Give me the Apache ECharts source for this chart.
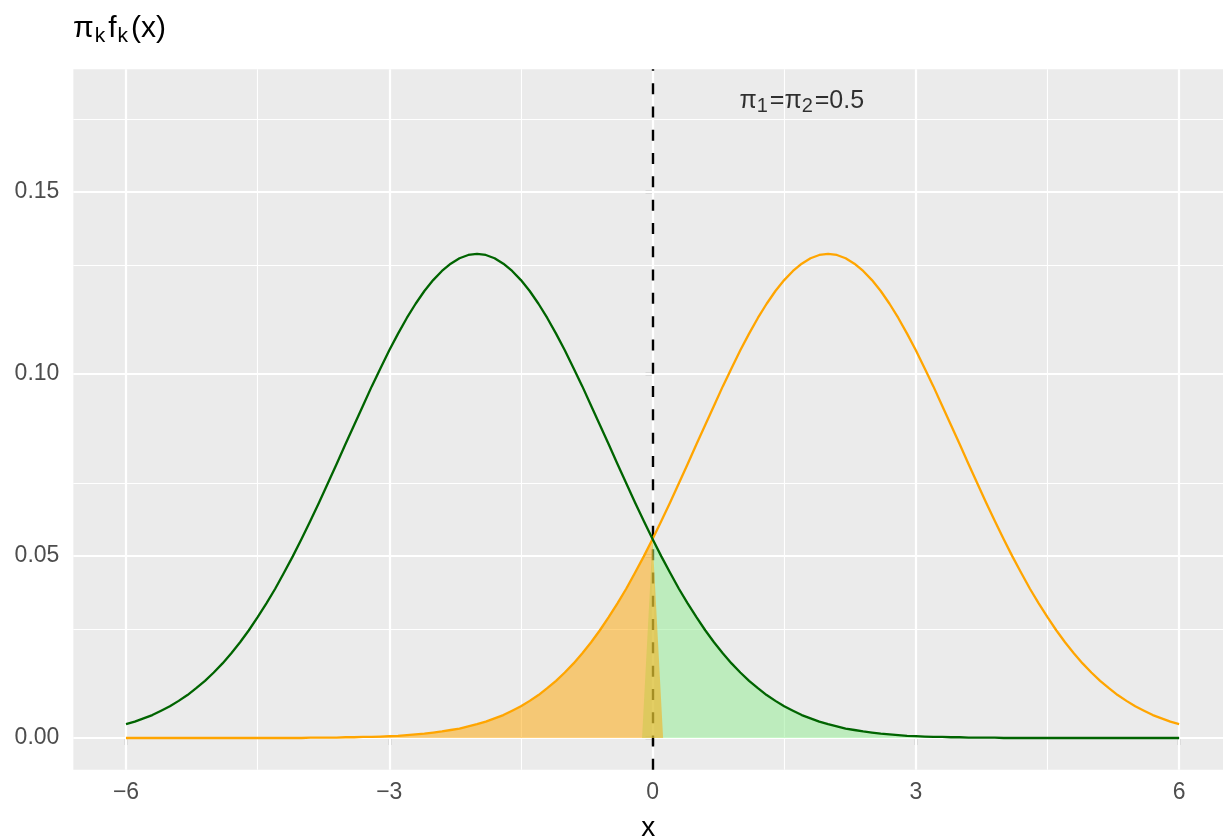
<!DOCTYPE html>
<html>
<head>
<meta charset="utf-8">
<script src="https://cdn.jsdelivr.net/npm/echarts@6/dist/echarts.min.js"></script>
<style>
html,body{margin:0;padding:0;background:#ffffff;overflow:hidden;}
#c{width:1223px;height:837px;}
</style>
</head>
<body>
<div id="c"></div>
<script>
// ---- data ----
const xValues = [-6,-5.9,-5.8,-5.7,-5.6,-5.5,-5.4,-5.3,-5.2,-5.1,-5,-4.9,-4.8,-4.7,-4.6,-4.5,-4.4,-4.3,-4.2,-4.1,-4,-3.9,-3.8,-3.7,-3.6,-3.5,-3.4,-3.3,-3.2,-3.1,-3,-2.9,-2.8,-2.7,-2.6,-2.5,-2.4,-2.3,-2.2,-2.1,-2,-1.9,-1.8,-1.7,-1.6,-1.5,-1.4,-1.3,-1.2,-1.1,-1,-0.9,-0.8,-0.7,-0.6,-0.5,-0.4,-0.3,-0.2,-0.1,0,0.1,0.2,0.3,0.4,0.5,0.6,0.7,0.8,0.9,1,1.1,1.2,1.3,1.4,1.5,1.6,1.7,1.8,1.9,2,2.1,2.2,2.3,2.4,2.5,2.6,2.7,2.8,2.9,3,3.1,3.2,3.3,3.4,3.5,3.6,3.7,3.8,3.9,4,4.1,4.2,4.3,4.4,4.5,4.6,4.7,4.8,4.9,5,5.1,5.2,5.3,5.4,5.5,5.6,5.7,5.8,5.9,6];
const greenValues = [0.0038,0.0045,0.0054,0.0063,0.0075,0.0087,0.0102,0.0118,0.0137,0.0157,0.0180,0.0205,0.0233,0.0263,0.0296,0.0332,0.0370,0.0410,0.0454,0.0499,0.0547,0.0596,0.0647,0.0700,0.0753,0.0807,0.0860,0.0913,0.0966,0.1016,0.1065,0.1111,0.1154,0.1193,0.1228,0.1258,0.1283,0.1303,0.1318,0.1327,0.1330,0.1327,0.1318,0.1303,0.1283,0.1258,0.1228,0.1193,0.1154,0.1111,0.1065,0.1016,0.0966,0.0913,0.0860,0.0807,0.0753,0.0700,0.0647,0.0596,0.0547,0.0499,0.0454,0.0410,0.0370,0.0332,0.0296,0.0263,0.0233,0.0205,0.0180,0.0157,0.0137,0.0118,0.0102,0.0087,0.0075,0.0063,0.0054,0.0045,0.0038,0.0032,0.0026,0.0022,0.0018,0.0015,0.0012,0.0010,0.0008,0.0006,0.0005,0.0004,0.0003,0.0003,0.0002,0.0002,0.0001,0.0001,0.0001,0.0001,0.0000,0,0,0,0,0,0,0,0,0,0,0,0,0,0,0,0,0,0,0,0];
const orangeValues = [0,0,0,0,0,0,0,0,0,0,0,0,0,0,0,0,0,0,0,0,0.0000,0.0001,0.0001,0.0001,0.0001,0.0002,0.0002,0.0003,0.0003,0.0004,0.0005,0.0006,0.0008,0.0010,0.0012,0.0015,0.0018,0.0022,0.0026,0.0032,0.0038,0.0045,0.0054,0.0063,0.0075,0.0087,0.0102,0.0118,0.0137,0.0157,0.0180,0.0205,0.0233,0.0263,0.0296,0.0332,0.0370,0.0410,0.0454,0.0499,0.0547,0.0596,0.0647,0.0700,0.0753,0.0807,0.0860,0.0913,0.0966,0.1016,0.1065,0.1111,0.1154,0.1193,0.1228,0.1258,0.1283,0.1303,0.1318,0.1327,0.1330,0.1327,0.1318,0.1303,0.1283,0.1258,0.1228,0.1193,0.1154,0.1111,0.1065,0.1016,0.0966,0.0913,0.0860,0.0807,0.0753,0.0700,0.0647,0.0596,0.0547,0.0499,0.0454,0.0410,0.0370,0.0332,0.0296,0.0263,0.0233,0.0205,0.0180,0.0157,0.0137,0.0118,0.0102,0.0087,0.0075,0.0063,0.0054,0.0045,0.0038];
const boundaryX = 0;          // decision boundary (dashed line)
const shadeEdgeStep = 0.12;   // shading polygons close one grid step past the boundary
const xTicks = [-6,-3,0,3,6];
const xMinorTicks = [-4.5,-1.5,1.5,4.5];
const yTicks = [0,0.05,0.10,0.15];
const yMinorTicks = [0.025,0.075,0.125,0.175];
const annotationPoint = [1.7, 0.175];
const annotationText = '{m|π}{s|1}{m|=π}{s|2}{m|=0.5}';
const titleText = '{m|π}{s|k}{m|f}{s|k}{m|(x)}';
const xAxisTitle = 'x';

// ---- build series data from the arrays ----
const greenLine = xValues.map((x, i) => [x, greenValues[i]]);
const orangeLine = xValues.map((x, i) => [x, orangeValues[i]]);
const orangeFill = orangeLine.filter(p => p[0] <= boundaryX).concat([[boundaryX + shadeEdgeStep, 0]]);
const greenFill = [[boundaryX - shadeEdgeStep, 0]].concat(greenLine.filter(p => p[0] >= boundaryX));

const FONT = '"Liberation Sans", Arial, Helvetica, sans-serif';
const fmtX = v => (v < 0 ? '\u2212' + Math.abs(v) : String(v));
const fmtY = v => Number(v).toFixed(2);

const gridLines = []
  .concat(yTicks.map(v => ({ yAxis: v, lineStyle: { color: '#ffffff', width: 2.2, type: 'solid' } })))
  .concat(yMinorTicks.map(v => ({ yAxis: v, lineStyle: { color: '#ffffff', width: 1.1, type: 'solid' } })))
  .concat(xTicks.map(v => ({ xAxis: v, lineStyle: { color: '#ffffff', width: 2.2, type: 'solid' } })))
  .concat(xMinorTicks.map(v => ({ xAxis: v, lineStyle: { color: '#ffffff', width: 1.1, type: 'solid' } })));

const chart = echarts.init(document.getElementById('c'), null, { renderer: 'canvas' });
chart.setOption({
  animation: false,
  backgroundColor: '#ffffff',
  title: {
    text: titleText,
    left: 72,
    top: 11,
    padding: 0,
    textStyle: {
      fontWeight: 'normal',
      rich: {
        m: { fontSize: 30, fontWeight: 'normal', fontFamily: FONT, color: '#000000', lineHeight: 36, padding: [0, 1, 0, 1] },
        s: { fontSize: 21, fontWeight: 'normal', fontFamily: FONT, color: '#000000', lineHeight: 20, verticalAlign: 'bottom', padding: [0, 2, 0, 0] }
      }
    }
  },
  grid: {
    left: 73.35, right: 0, top: 69.15, bottom: 67.15,
    outerBoundsMode: 'none',
    show: true, backgroundColor: '#EBEBEB', borderWidth: 0, containLabel: false
  },
  xAxis: {
    type: 'value', min: -6.6, max: 6.5,
    axisLine: { show: false },
    splitLine: { show: false },
    axisTick: { show: true, length: 7, customValues: xTicks, lineStyle: { color: '#333333', width: 2.2 } },
    axisLabel: { customValues: xTicks, formatter: fmtX, color: '#4D4D4D', fontSize: 23, fontFamily: FONT, margin: 11 },
    name: xAxisTitle, nameLocation: 'middle', nameGap: 44,
    nameTextStyle: { fontSize: 28, color: '#000000', fontFamily: FONT }
  },
  yAxis: {
    type: 'value', min: -0.00875, max: 0.18375,
    axisLine: { show: false },
    splitLine: { show: false },
    axisTick: { show: true, length: 7, customValues: yTicks, lineStyle: { color: '#333333', width: 2.2 } },
    axisLabel: { customValues: yTicks, formatter: fmtY, color: '#4D4D4D', fontSize: 23, fontFamily: FONT, margin: 14 }
  },
  series: [
    {
      type: 'line', data: [], silent: true,
      markLine: { silent: true, z: 1, symbol: ['none', 'none'], label: { show: false }, emphasis: { disabled: true }, animation: false, data: gridLines }
    },
    {
      type: 'line', data: [], silent: true,
      markLine: {
        silent: true, z: 1.5, symbol: ['none', 'none'], label: { show: false }, emphasis: { disabled: true }, animation: false,
        lineStyle: { color: '#000000', width: 2.4, type: [11, 12.3] },
        data: [{ xAxis: boundaryX }]
      }
    },
    {
      name: 'greenFill', type: 'line', data: greenFill, z: 2, silent: true,
      showSymbol: false, symbol: 'none', smooth: false,
      lineStyle: { width: 0, opacity: 0 },
      areaStyle: { color: 'rgba(144,238,144,0.5)', opacity: 1, origin: 0 }
    },
    {
      name: 'orangeFill', type: 'line', data: orangeFill, z: 2, silent: true,
      showSymbol: false, symbol: 'none', smooth: false,
      lineStyle: { width: 0, opacity: 0 },
      areaStyle: { color: 'rgba(255,165,0,0.5)', opacity: 1, origin: 0 }
    },
    {
      name: 'orange', type: 'line', data: orangeLine, z: 3, silent: true,
      showSymbol: false, symbol: 'none', smooth: false,
      lineStyle: { color: '#FFA500', width: 2.3, join: 'round' }
    },
    {
      name: 'green', type: 'line', data: greenLine, z: 3, silent: true,
      showSymbol: false, symbol: 'none', smooth: false,
      lineStyle: { color: '#006400', width: 2.3, join: 'round' }
    },
    {
      type: 'scatter', data: [annotationPoint], symbolSize: 0, z: 4, silent: true,
      label: {
        show: true, position: 'inside', formatter: annotationText,
        rich: {
          m: { fontSize: 25, fontFamily: FONT, color: '#000000', lineHeight: 30 },
          s: { fontSize: 20, fontFamily: FONT, color: '#000000', lineHeight: 16, verticalAlign: 'bottom', padding: [0, 2, 0, 0] }
        }
      }
    }
  ]
});
</script>
</body>
</html>
